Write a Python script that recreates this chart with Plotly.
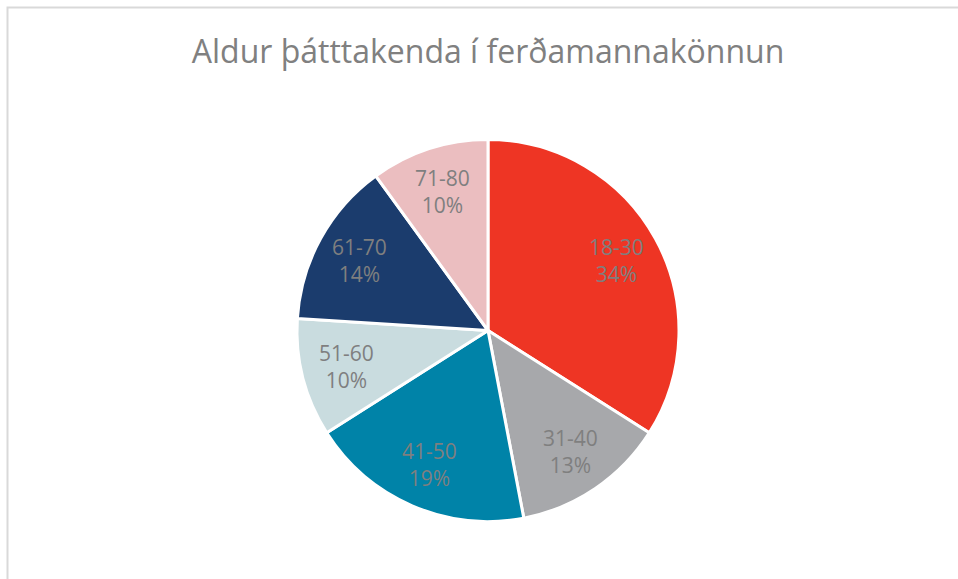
import math
import plotly.graph_objects as go

# Age groups of survey participants and their shares (%)
age_groups = ["18-30", "31-40", "41-50", "51-60", "61-70", "71-80"]
shares = [34, 13, 19, 10, 14, 10]
slice_colors = ["#EE3524", "#A7A8AB", "#0083A8", "#C9DCDF", "#1B3C6D", "#EBBEC0"]

title_text = "Aldur þátttakenda í ferðamannakönnun"

W, H = 958, 579
cx, cy, r = 488, 330.5, 191
label_radius = 0.765  # fraction of the pie radius where labels sit

fig = go.Figure(
    go.Pie(
        labels=age_groups,
        values=shares,
        sort=False,
        direction="clockwise",
        rotation=0,
        marker=dict(colors=slice_colors, line=dict(color="white", width=3)),
        textinfo="none",
        hoverinfo="label+percent",
        showlegend=False,
        domain=dict(
            x=[(cx - r) / W, (cx + r) / W],
            y=[1 - (cy + r) / H, 1 - (cy - r) / H],
        ),
    )
)

# Slice labels placed at the angular middle of each slice
total = sum(shares)
annotations = []
cum = 0
for lab, val in zip(age_groups, shares):
    mid = (cum + val / 2) / total * 2 * math.pi
    cum += val
    px = cx + label_radius * r * math.sin(mid)
    py = cy - label_radius * r * math.cos(mid)
    annotations.append(
        dict(
            x=px / W,
            y=1 - py / H,
            xref="paper",
            yref="paper",
            text=f"{lab}<br>{round(val / total * 100)}%",
            showarrow=False,
            xanchor="center",
            yanchor="middle",
            align="center",
            font=dict(family="Open Sans", size=21, color="#7F7F7F"),
        )
    )

fig.update_layout(
    width=W,
    height=H,
    margin=dict(l=0, r=0, t=0, b=0),
    paper_bgcolor="white",
    font=dict(family="Open Sans"),
    title=dict(
        text=title_text,
        x=cx / W,
        xanchor="center",
        y=1 - 52 / H,
        yanchor="middle",
        font=dict(family="Open Sans", size=32, color="#808080"),
    ),
    annotations=annotations,
    shapes=[
        dict(
            type="rect",
            xref="paper",
            yref="paper",
            x0=7.5 / W,
            x1=1.05,
            y0=-0.05,
            y1=1 - 7.5 / H,
            line=dict(color="#D9D9D9", width=2),
            fillcolor="rgba(0,0,0,0)",
            layer="below",
        )
    ],
)

fig.write_html("out.html")
